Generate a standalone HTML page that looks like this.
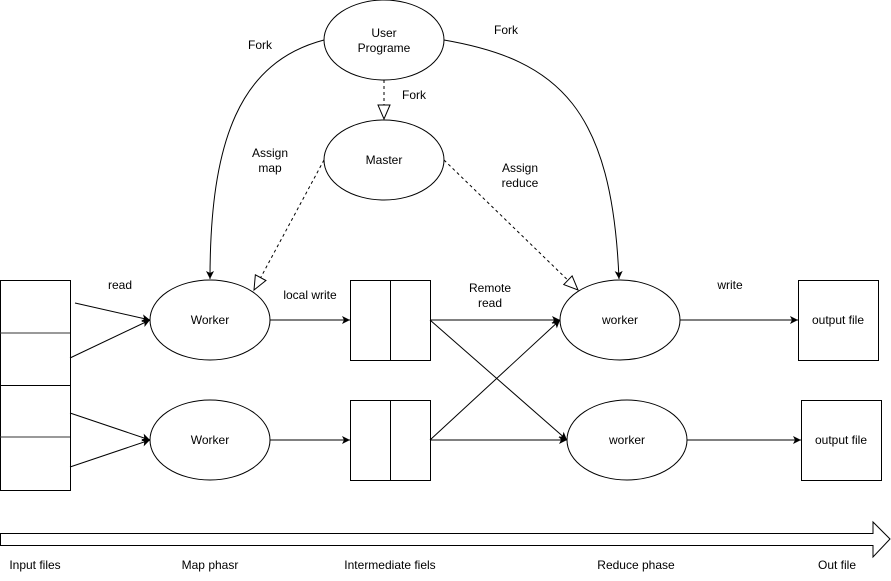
<!DOCTYPE html>
<html><head><style>body{margin:0;background:#fff}svg{display:block}text{font-family:"Liberation Sans",Helvetica,sans-serif;font-size:12px;fill:#000}</style></head>
<body>
<svg width="891" height="581" viewBox="0 0 891 581" xmlns="http://www.w3.org/2000/svg">
<defs>
<marker id="a" markerWidth="10" markerHeight="10" refX="9" refY="5" orient="auto" markerUnits="userSpaceOnUse"><path d="M1,1 L9,5 L1,9 L3,5 Z" fill="#000"/></marker>
<marker id="h" markerWidth="16" markerHeight="14" refX="15" refY="7" orient="auto" markerUnits="userSpaceOnUse"><path d="M1,1 L15,7 L1,13 Z" fill="#fff" stroke="#000"/></marker>
</defs>
<g fill="#fff" stroke="#000" stroke-width="1">
<ellipse cx="384" cy="40" rx="60" ry="40"/>
<ellipse cx="384" cy="160" rx="60" ry="40"/>
<ellipse cx="210" cy="320" rx="60" ry="40"/>
<ellipse cx="210" cy="440" rx="60" ry="40"/>
<ellipse cx="620" cy="320" rx="60" ry="40"/>
<ellipse cx="627" cy="440" rx="60" ry="40"/>
<rect x="0.5" y="280.5" width="70" height="210"/>
<rect x="350.5" y="280.5" width="80" height="80"/>
<rect x="350.5" y="400.5" width="80" height="80"/>
<rect x="798.5" y="280.5" width="80" height="80"/>
<rect x="801.5" y="400.5" width="80" height="80"/>
<path d="M0.5,533.5 H873 V522 L890,539 L873,557 V545.5 H0.5 Z"/>
</g>
<g stroke="#000" fill="none">
<line x1="0" y1="333" x2="70" y2="333" stroke="#333"/>
<line x1="0" y1="385.5" x2="70" y2="385.5"/>
<line x1="0" y1="437" x2="70" y2="437" stroke="#333"/>
<line x1="390.5" y1="280" x2="390.5" y2="360"/>
<line x1="390.5" y1="400" x2="390.5" y2="480"/>
<path d="M324,40 C240,62 210,140 210,279" marker-end="url(#a)"/>
<path d="M444,40 C560,60 612,110 619,279" marker-end="url(#a)"/>
<path d="M384,80 V119" stroke-dasharray="3,3" marker-end="url(#h)"/>
<path d="M324,160 L254,290" stroke-dasharray="3,3" marker-end="url(#h)"/>
<path d="M444,160 L578,290" stroke-dasharray="3,3" marker-end="url(#h)"/>
<path d="M75,303 L150,320" marker-end="url(#a)"/>
<path d="M70,358 L150,320" marker-end="url(#a)"/>
<path d="M70,413 L150,440" marker-end="url(#a)"/>
<path d="M70,467 L150,440" marker-end="url(#a)"/>
<path d="M270,320 H350" marker-end="url(#a)"/>
<path d="M270,440 H350" marker-end="url(#a)"/>
<path d="M430,320 H560" marker-end="url(#a)"/>
<path d="M430,320 L567,440" marker-end="url(#a)"/>
<path d="M430,440 L560,320" marker-end="url(#a)"/>
<path d="M430,440 H567" marker-end="url(#a)"/>
<path d="M680,320 H798" marker-end="url(#a)"/>
<path d="M687,440 H801" marker-end="url(#a)"/>
</g>
<g text-anchor="middle">
<text x="384" y="37">User</text><text x="384" y="52">Programe</text>
<text x="384" y="164">Master</text>
<text x="210" y="324">Worker</text>
<text x="210" y="444">Worker</text>
<text x="620" y="324">worker</text>
<text x="627" y="444">worker</text>
<text x="838" y="324">output file</text>
<text x="841" y="444">output file</text>
<text x="260" y="49">Fork</text>
<text x="506" y="34">Fork</text>
<text x="414" y="99">Fork</text>
<text x="270" y="157">Assign</text><text x="270" y="172">map</text>
<text x="520" y="172">Assign</text><text x="520" y="187">reduce</text>
<text x="120" y="289">read</text>
<text x="310" y="299">local write</text>
<text x="490" y="292">Remote</text><text x="490" y="307">read</text>
<text x="730" y="289">write</text>
<text x="35" y="569">Input files</text>
<text x="210" y="569">Map phasr</text>
<text x="390" y="569">Intermediate fiels</text>
<text x="636" y="569">Reduce phase</text>
<text x="837" y="569">Out file</text>
</g>
</svg>
</body></html>
